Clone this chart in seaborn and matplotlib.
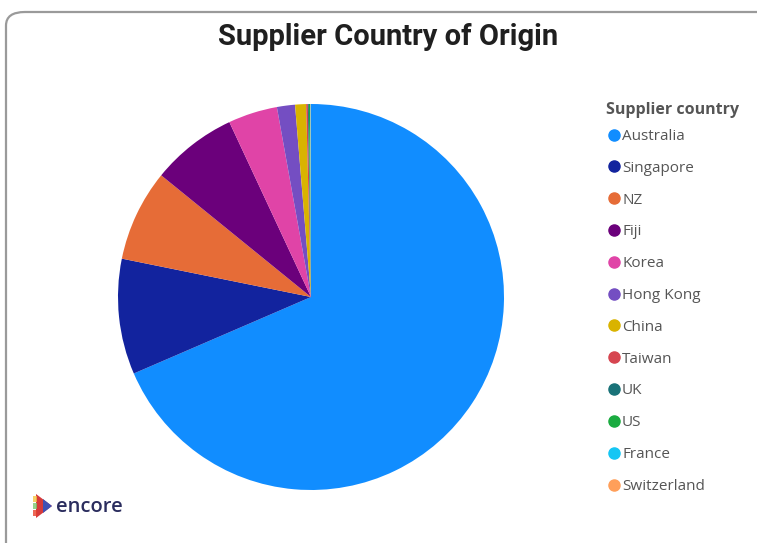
import matplotlib
matplotlib.use("Agg")
import matplotlib.pyplot as plt
from matplotlib.lines import Line2D
from matplotlib.patches import FancyBboxPatch, Polygon
import seaborn as sns

countries = ["Australia", "Singapore", "NZ", "Fiji", "Korea", "Hong Kong",
             "China", "Taiwan", "UK", "US", "France", "Switzerland"]
shares = [68.5, 9.67, 7.67, 7.19, 4.12, 1.51, 0.92, 0.14, 0.08, 0.10, 0.05, 0.03]
colors = ["#118DFF", "#12239E", "#E66C37", "#6B007B", "#E044A7", "#744EC2",
          "#D9B300", "#D64550", "#197278", "#1AAB40", "#15C6F4", "#FF9F5A"]

sns.set_theme(style="white")
palette = sns.color_palette(colors)

W, H = 757, 543
fig = plt.figure(figsize=(W / 100, H / 100), dpi=100)
fig.patch.set_facecolor("white")

# card border (rounded, extends beyond the right/bottom edges)
card = FancyBboxPatch((6 / W, -0.05), 1.2, (H - 12) / H + 0.05,
                      boxstyle="round,pad=0,rounding_size=0.025",
                      transform=fig.transFigure, facecolor="none",
                      edgecolor="#9a9a9a", linewidth=1.6, zorder=-1)
fig.patches.append(card)

# pie
cx, cy, r = 311, 297, 193
ax = fig.add_axes([(cx - r) / W, (H - cy - r) / H, 2 * r / W, 2 * r / H])
ax.pie(shares, colors=palette, startangle=90, counterclock=False,
       radius=1, wedgeprops=dict(linewidth=0))
ax.set_xlim(-1, 1)
ax.set_ylim(-1, 1)
ax.set_aspect("equal")
ax.axis("off")

# title
fig.text(388 / W, 1 - 37 / H, "Supplier Country of Origin", ha="center", va="center",
         fontsize=21, fontweight="bold", color="#1f1f1f", family="Roboto")

# legend
fig.text(606 / W, 1 - 110 / H, "Supplier country", ha="left", va="center",
         fontsize=11.5, fontweight="bold", color="#555555", family="Open Sans")
handles = [Line2D([], [], marker="o", linestyle="none", markersize=8,
                  markerfacecolor=c, markeredgecolor=c) for c in palette]
leg = fig.legend(handles, countries,
                 loc="upper left", bbox_to_anchor=(606 / W, 1 - 129 / H),
                 frameon=False, labelspacing=1.1, handletextpad=0.05,
                 handlelength=1.0, borderpad=0, borderaxespad=0,
                 prop={"family": "Open Sans", "size": 11})
for t in leg.get_texts():
    t.set_color("#555555")

# encore logo
logo_cols = ["#F4C542", "#7BC96F", "#E8412C"]
fig.patches.append(Polygon([(x / W, 1 - y / H) for x, y in [(36, 494), (36, 518), (52, 506)]],
                           closed=True, transform=fig.transFigure,
                           facecolor="#D63A3A", edgecolor="none"))
fig.patches.append(Polygon([(x / W, 1 - y / H) for x, y in [(43, 499), (43, 513), (52, 506)]],
                           closed=True, transform=fig.transFigure,
                           facecolor="#3F51B5", edgecolor="none"))
for i, c in enumerate(logo_cols):
    fig.patches.append(Polygon([(x / W, 1 - y / H) for x, y in
                                [(33, 496 + i * 7), (37, 496 + i * 7), (37, 502 + i * 7), (33, 502 + i * 7)]],
                               closed=True, transform=fig.transFigure,
                               facecolor=c, edgecolor="none", alpha=0.8))
fig.text(56 / W, 1 - 507 / H, "encore", ha="left", va="center", fontsize=14.5,
         fontweight="semibold", color="#2B2D5E", family="Open Sans")

fig.savefig("out.png", dpi=100, facecolor="white")
